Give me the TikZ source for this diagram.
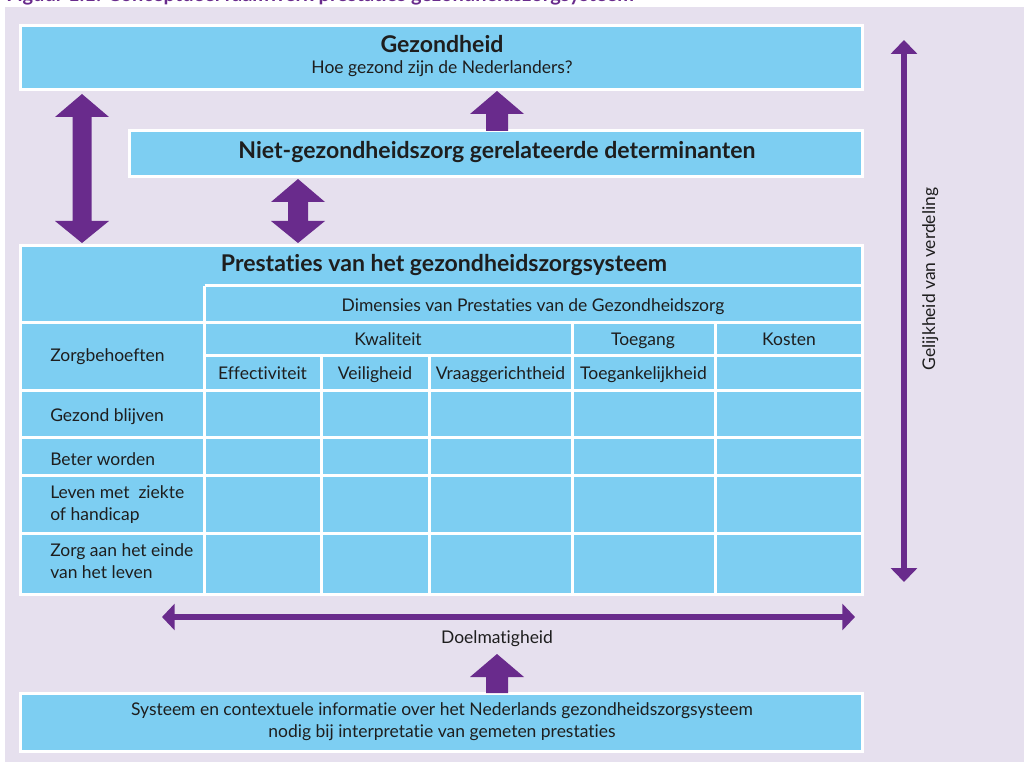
\documentclass[tikz,border=0pt]{standalone}
\usepackage{fontspec}
\setmainfont{Lato}[Ligatures={NoCommon}]
\usetikzlibrary{fit,arrows.meta}
\definecolor{bgl}{HTML}{E6E0EE}
\definecolor{cblue}{HTML}{7DCEF2}
\definecolor{cpurp}{HTML}{692B8C}
\definecolor{ctext}{HTML}{1E1E1E}
\newcommand\fsreg{\fontsize{13.1}{16.5}\selectfont}
\newcommand\fsbold{\fontsize{17.3}{20}\selectfont\bfseries}
\begin{document}
\begin{tikzpicture}[x=0.75pt,y=-0.75pt,
  bluebox/.style={draw=white, fill=cblue, line width=2.25pt, inner sep=0pt, outer sep=0pt},
  gridline/.style={draw=white, line width=2.25pt},
  txt/.style={text=ctext, font=\fsreg, inner sep=0pt, anchor=base},
  ltxt/.style={text=ctext, font=\fsreg, inner sep=0pt, anchor=base west},
  btxt/.style={text=ctext, font=\fsbold, inner sep=0pt, anchor=base},
  blockarrow/.style={fill=cpurp},
  thinarrow/.style={draw=cpurp, line width=4.5pt, {Triangle[width=19.5pt,length=10.5pt]}-{Triangle[width=19.5pt,length=10.5pt]}},
  harrow/.style={draw=cpurp, line width=5pt, {Triangle[width=19.5pt,length=9.5pt]}-{Triangle[width=19.5pt,length=9.5pt]}}
]
\useasboundingbox (0,0) rectangle (1024,762);
\fill[bgl] (5,7) rectangle (1024,762);
\node[anchor=base west, inner sep=0pt, text=cpurp, font=\fontsize{15}{17}\selectfont\bfseries] (fig) at (6,2) {Figuur 1.1: Conceptueel raamwerk prestaties gezondheidszorgsysteem};

% top boxes
\node[bluebox, fit={(20.5,25.5) (862.5,89.5)}] (gez) {};
\node[btxt] (gezt) at (442,53) {Gezondheid};
\node[txt] (gezs) at (442,74) {Hoe gezond zijn de Nederlanders?};

\node[bluebox, fit={(129,131) (862.5,176.5)}] (niet) {};
\node[btxt] (niett) at (497,159) {Niet-gezondheidszorg gerelateerde determinanten};

% table
\node[bluebox, fit={(20.5,245.5) (862.5,594)}] (tab) {};
\draw[gridline] (204.5,286) -- (862.5,286);
\draw[gridline] (20.5,323) -- (862.5,323);
\draw[gridline] (204.5,356) -- (862.5,356);
\draw[gridline] (20.5,391) -- (862.5,391);
\draw[gridline] (20.5,438) -- (862.5,438);
\draw[gridline] (20.5,476) -- (862.5,476);
\draw[gridline] (20.5,533) -- (862.5,533);
\draw[gridline] (204.5,286) -- (204.5,594);
\draw[gridline] (321,356) -- (321,594);
\draw[gridline] (429,356) -- (429,594);
\draw[gridline] (572,323) -- (572,594);
\draw[gridline] (715,323) -- (715,594);

\node[btxt] (prest) at (444,272) {Prestaties van het gezondheidszorgsysteem};
\node[txt] (dim) at (533,312) {Dimensies van Prestaties van de Gezondheidszorg};
\node[txt] (kwal) at (388,346) {Kwaliteit};
\node[txt] (toeg) at (643,346) {Toegang};
\node[txt] (kost) at (789,346) {Kosten};
\node[txt] (eff) at (262.5,380) {Effectiviteit};
\node[txt] (veil) at (375,380) {Veiligheid};
\node[txt] (vraag) at (500.5,380) {Vraaggerichtheid};
\node[txt] (toegk) at (643.5,380) {Toegankelijkheid};
\node[ltxt] (zorgb) at (50,362) {Zorgbehoeften};
\node[ltxt] (gezb) at (50,422) {Gezond blijven};
\node[ltxt] (beter) at (50,465) {Beter worden};
\node[ltxt, align=left] (leven) at (50,520) {Leven met\ \ ziekte\\of handicap};
\node[ltxt, align=left] (einde) at (50,578) {Zorg aan het einde\\van het leven};

% bottom box
\node[bluebox, fit={(20.5,693) (862.5,751)}] (sys) {};
\node[txt, align=center, font=\fontsize{13.1}{15.8}\selectfont] (syst) at (442,737) {Systeem en contextuele informatie over het Nederlands gezondheidszorgsysteem\\nodig bij interpretatie van gemeten prestaties};

% block arrows
\fill[blockarrow] (82,94) -- (109,117) -- (91.5,117) -- (91.5,221) -- (109,221) -- (82,243) -- (55,221) -- (72.5,221) -- (72.5,117) -- (55,117) -- cycle;
\fill[blockarrow] (298,179) -- (325,202) -- (308,202) -- (308,221) -- (325,221) -- (298,243) -- (271,221) -- (288,221) -- (288,202) -- (271,202) -- cycle;
\fill[blockarrow] (497,91) -- (524,114) -- (508,114) -- (508,131) -- (486,131) -- (486,114) -- (470,114) -- cycle;
\fill[blockarrow] (497,654) -- (524,677) -- (508,677) -- (508,693) -- (486,693) -- (486,677) -- (470,677) -- cycle;

% thin arrows
\coordinate (gtop) at (904,40);
\coordinate (gbot) at (904,582);
\draw[thinarrow] (gtop) -- (gbot);
\node[txt, rotate=90] (gelijk) at (935,279) {Gelijkheid van verdeling};

\coordinate (dl) at (162,617);
\coordinate (dr) at (855,617);
\draw[harrow] (dl) -- (dr);
\node[txt] (doel) at (497,643) {Doelmatigheid};
\end{tikzpicture}
\end{document}
